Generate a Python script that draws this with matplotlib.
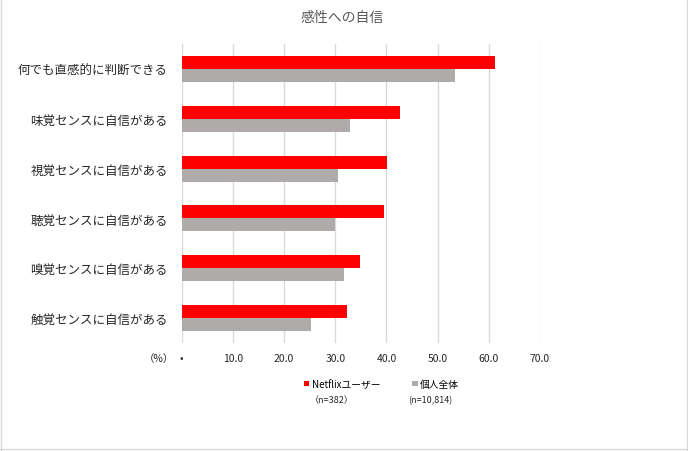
import matplotlib
matplotlib.use("Agg")
import matplotlib.pyplot as plt
import numpy as np

plt.rcParams["font.family"] = ["Noto Sans CJK JP", "DejaVu Sans"]

categories = ["何でも直感的に判断できる", "味覚センスに自信がある", "視覚センスに自信がある",
              "聴覚センスに自信がある", "嗅覚センスに自信がある", "触覚センスに自信がある"]
netflix = [61.3, 42.7, 40.2, 39.6, 34.9, 32.3]
overall = [53.3, 32.9, 30.6, 30.0, 31.7, 25.3]
series_names = ["Netflixユーザー", "個人全体"]
series_n = ["（n=382）", "(n=10,814)"]
xticks = [0, 10, 20, 30, 40, 50, 60, 70]
xticklabels = ["•", "10.0", "20.0", "30.0", "40.0", "50.0", "60.0", "70.0"]

fig = plt.figure(figsize=(6.88, 4.52), dpi=100)
ax = fig.add_axes([181.7 / 688, 1 - 344 / 452, (540 - 181.7) / 688, (344 - 45) / 452])

y = np.arange(len(categories))
h = 0.261
b1 = ax.barh(y - h / 2, netflix, height=h, color="#ff0000", zorder=3)
b2 = ax.barh(y + h / 2, overall, height=h, color="#afabab", zorder=3)

ax.set_xlim(0, 70)
ax.set_ylim(len(categories) - 0.5, -0.5)
ax.set_yticks(y)
ax.set_yticklabels(categories, fontsize=9, color="#262626")
ax.set_xticks(xticks)
ax.set_xticklabels(xticklabels, fontsize=7.5, color="#262626")
ax.tick_params(length=0)
ax.tick_params(axis="x", pad=7)
ax.tick_params(axis="y", pad=10)
ax.grid(axis="x", color="#d9d9d9", linewidth=1, zorder=0)
for s in ax.spines.values():
    s.set_visible(False)

fig.text(342 / 688, 1 - 18 / 452, "感性への自信", ha="center", va="center", fontsize=10, color="#595959")
fig.text(159 / 688, 1 - 359 / 452, "（%）", ha="center", va="center", fontsize=7.5, color="#262626")

fig.legend([b1, b2], series_names, loc="center left", bbox_to_anchor=(304 / 688, 1 - 385 / 452),
           ncol=2, frameon=False, fontsize=7, handlelength=0.55, handleheight=0.55,
           handletextpad=0.25, columnspacing=3.3, borderpad=0, borderaxespad=0)
fig.text(332 / 688, 1 - 401 / 452, series_n[0], ha="center", va="center", fontsize=6.5, color="#262626")
fig.text(430 / 688, 1 - 401 / 452, series_n[1], ha="center", va="center", fontsize=6.5, color="#262626")

# outer frame of the chart area
fig.add_artist(plt.Line2D([0.5 / 688, 0.5 / 688], [0, 1], color="#d9d9d9", lw=1, transform=fig.transFigure))
fig.add_artist(plt.Line2D([686.5 / 688, 686.5 / 688], [0, 1], color="#d9d9d9", lw=1, transform=fig.transFigure))
fig.add_artist(plt.Line2D([0, 1], [1 - 450 / 452, 1 - 450 / 452], color="#d9d9d9", lw=1, transform=fig.transFigure))

fig.savefig("out.png", dpi=100)
